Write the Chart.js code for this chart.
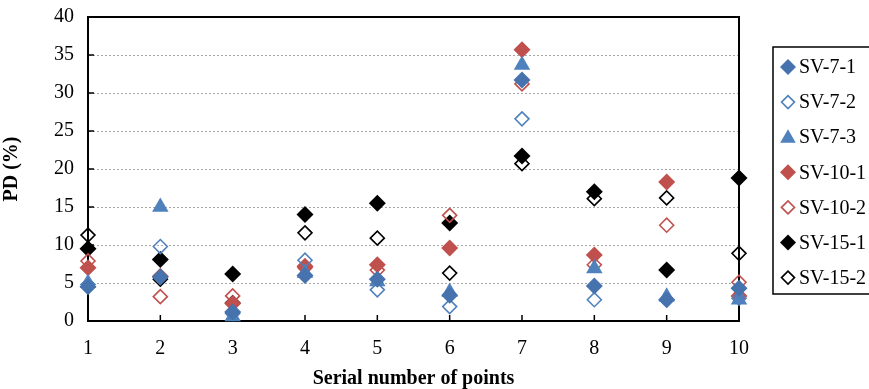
<!DOCTYPE html>
<html><head><meta charset="utf-8">
<script src="https://cdn.jsdelivr.net/npm/chart.js@4"></script>
<style>html,body{margin:0;padding:0;background:#fff}#wrap{width:869px;height:389px;position:relative}</style>
</head><body><div id="wrap"><canvas id="c" width="869" height="389"></canvas></div>
<script>
const categories = [1, 2, 3, 4, 5, 6, 7, 8, 9, 10];
const seriesNames = ['SV-7-1', 'SV-7-2', 'SV-7-3', 'SV-10-1', 'SV-10-2', 'SV-15-1', 'SV-15-2'];
const sv7_1  = [4.5, 5.8, 1.2, 6.0, 5.5, 3.4, 31.7, 4.6, 2.8, 4.3];
const sv7_2  = [4.8, 9.8, 1.0, 8.0, 4.1, 1.9, 26.6, 2.8, 2.8, 3.0];
const sv7_3  = [5.0, 15.0, 0.6, 6.3, 5.2, 3.8, 33.7, 6.9, 3.2, 2.8];
const sv10_1 = [7.0, 5.9, 2.3, 7.2, 7.4, 9.6, 35.7, 8.7, 18.3, 3.3];
const sv10_2 = [7.9, 3.2, 3.3, 7.0, 6.7, 13.9, 31.2, 7.4, 12.6, 5.1];
const sv15_1 = [9.5, 8.1, 6.2, 14.0, 15.5, 12.9, 21.7, 17.0, 6.7, 18.8];
const sv15_2 = [11.3, 5.5, 2.4, 11.6, 10.9, 6.3, 20.7, 16.1, 16.2, 8.9];
const yTicks = [0, 5, 10, 15, 20, 25, 30, 35, 40];

const FONT = "'Liberation Serif', 'Times New Roman', serif";
const BLUE_D = '#4672AE', BLUE = '#4F81BD', RED = '#C0504D', BLACK = '#000000';

const styles = [
  {pointStyle:'rectRot', backgroundColor:BLUE_D, borderColor:BLUE_D, pointRadius:8.5, borderWidth:0},
  {pointStyle:'rectRot', backgroundColor:'rgba(0,0,0,0)', borderColor:BLUE, pointRadius:7, borderWidth:1.6},
  {pointStyle:'triangle', backgroundColor:BLUE, borderColor:BLUE, pointRadius:9.5, borderWidth:0},
  {pointStyle:'rectRot', backgroundColor:RED, borderColor:RED, pointRadius:8.5, borderWidth:0},
  {pointStyle:'rectRot', backgroundColor:'rgba(0,0,0,0)', borderColor:RED, pointRadius:7, borderWidth:1.6},
  {pointStyle:'rectRot', backgroundColor:BLACK, borderColor:BLACK, pointRadius:8.5, borderWidth:0},
  {pointStyle:'rectRot', backgroundColor:'rgba(0,0,0,0)', borderColor:BLACK, pointRadius:7, borderWidth:1.6}
];
const allSeries = [sv7_1, sv7_2, sv7_3, sv10_1, sv10_2, sv15_1, sv15_2];

const datasets = allSeries.map((arr, i) => Object.assign({
  label: seriesNames[i],
  data: categories.map((c, j) => ({x: c, y: arr[j]})),
  pointHoverRadius: styles[i].pointRadius,
  showLine: false,
  clip: false
}, styles[i]));

const framePlugin = {
  id: 'frame',
  beforeDatasetsDraw(chart) {
    const ctx = chart.ctx, a = chart.chartArea;
    const xs = chart.scales.x, ys = chart.scales.y;
    ctx.save();
    ctx.strokeStyle = '#000';
    ctx.lineWidth = 2;
    ctx.beginPath();
    ctx.moveTo(a.left, a.top); ctx.lineTo(a.right, a.top); ctx.lineTo(a.right, a.bottom);
    ctx.stroke();
    ctx.lineWidth = 1.5;
    ctx.beginPath();
    yTicks.forEach(v => { const py = ys.getPixelForValue(v); ctx.moveTo(a.left, py); ctx.lineTo(a.left + 6, py); });
    categories.forEach(v => { const px = xs.getPixelForValue(v); ctx.moveTo(px, a.bottom); ctx.lineTo(px, a.bottom - 6); });
    ctx.stroke();
    ctx.restore();
  },
  afterDraw(chart) {
    const ctx = chart.ctx;
    ctx.save();
    const lx = 773, ly = 47, lh = 247;
    ctx.strokeStyle = '#000';
    ctx.lineWidth = 1.5;
    ctx.strokeRect(lx, ly, 120, lh);
    ctx.font = '20px ' + FONT;
    ctx.fillStyle = '#000';
    ctx.textBaseline = 'middle';
    ctx.textAlign = 'left';
    chart.data.datasets.forEach((ds, i) => {
      const cy = 67 + i * 35.1;
      const r = ds.pointStyle === 'triangle' ? 9 : (ds.borderWidth ? 6.5 : 8);
      ctx.save();
      ctx.fillStyle = ds.backgroundColor;
      ctx.strokeStyle = ds.borderColor;
      ctx.lineWidth = ds.borderWidth || 0.01;
      Chart.helpers.drawPoint(ctx, {pointStyle: ds.pointStyle, radius: r, rotation: 0, borderWidth: ds.borderWidth}, 788, cy + (ds.pointStyle === 'triangle' ? 1 : 0));
      ctx.restore();
      ctx.fillText(ds.label, 799, cy + 1);
    });
    ctx.restore();
  }
};

new Chart(document.getElementById('c'), {
  type: 'scatter',
  data: { datasets },
  options: {
    responsive: false,
    animation: false,
    layout: { padding: { left: 0, top: 17, right: 130, bottom: 0 } },
    plugins: { legend: { display: false }, tooltip: { enabled: false } },
    scales: {
      x: {
        type: 'linear', min: 1, max: 10,
        afterFit: s => { s.height = 68; s.paddingLeft = 0; s.paddingRight = 0; },
        afterBuildTicks: s => { s.ticks = categories.map(v => ({value: v})); },
        ticks: { color: '#000', font: { family: FONT, size: 20 }, padding: 16 },
        grid: { display: false, drawTicks: false },
        border: { display: true, color: '#000', width: 2 },
        title: { display: true, text: 'Serial number of points', color: '#000', font: { family: FONT, size: 20, weight: 'bold', lineHeight: 1.05 }, padding: { top: 4, bottom: 0 } }
      },
      y: {
        min: 0, max: 40,
        afterFit: s => { s.width = 88; s.paddingTop = 0; s.paddingBottom = 0; },
        afterBuildTicks: s => { s.ticks = yTicks.map(v => ({value: v})); },
        ticks: { color: '#000', font: { family: FONT, size: 20 }, padding: 14 },
        grid: { color: '#a6a6a6', lineWidth: 1, drawTicks: false },
        border: { display: true, color: '#000', width: 2, dash: [2, 2] },
        title: { display: true, text: 'PD (%)', color: '#000', font: { family: FONT, size: 20, weight: 'bold' }, padding: { top: 0, bottom: 2 } }
      }
    }
  },
  plugins: [framePlugin]
});
</script></body></html>
